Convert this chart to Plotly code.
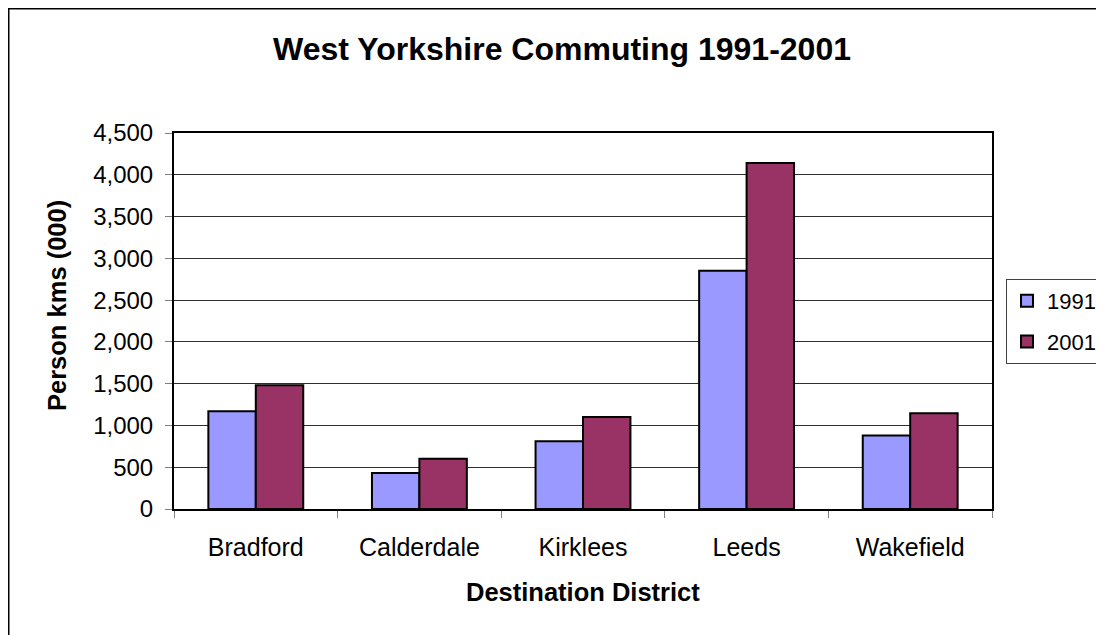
import plotly.graph_objects as go

districts = ["Bradford", "Calderdale", "Kirklees", "Leeds", "Wakefield"]
values_1991 = [1170, 430, 810, 2850, 880]
values_2001 = [1480, 600, 1100, 4140, 1145]
y_ticks = [0, 500, 1000, 1500, 2000, 2500, 3000, 3500, 4000, 4500]

FONT = "Liberation Sans, Arial, sans-serif"

# page is drawn with an 8px body margin; figure coordinates are offset-corrected
OFF = 8
W, H = 1104, 635
L, R, T, B = 174 - OFF, 992 - OFF, 133 - OFF, 509 - OFF
pw, ph = R - L, B - T

fig = go.Figure()
fig.add_trace(go.Bar(x=districts, y=values_1991, name="1991", legendgroup="a",
                     marker=dict(color="#9999FF", line=dict(color="black", width=2))))
fig.add_trace(go.Bar(x=districts, y=values_2001, name="2001", legendgroup="b",
                     marker=dict(color="#993366", line=dict(color="black", width=2))))

fig.update_layout(
    width=W, height=H,
    margin=dict(l=L, r=W - R, t=T, b=H - B, pad=0, autoexpand=False),
    paper_bgcolor="white", plot_bgcolor="white",
    bargap=0.42, bargroupgap=0,
    font=dict(family=FONT, color="black", size=20),
    title=dict(text="<b>West Yorkshire Commuting 1991-2001</b>",
               x=(562 - OFF) / W, xanchor="center", y=1 - (49 - OFF) / H, yanchor="middle",
               font=dict(family=FONT, size=32, color="black")),
    legend=dict(x=(1006 - OFF - L) / pw, xanchor="left", y=(B - (279 - OFF)) / ph, yanchor="top",
                bordercolor="#404040", borderwidth=1, bgcolor="white",
                font=dict(family=FONT, size=22, color="black"),
                itemwidth=30, tracegroupgap=9),
    showlegend=True,
)

fig.update_xaxes(
    showline=True, linecolor="black", linewidth=2, mirror=True,
    ticks="outside", tickson="boundaries", ticklen=7, tickcolor="#808080", tickwidth=1,
    tickfont=dict(family=FONT, size=25, color="black"),
    ticklabelstandoff=15,
    showgrid=False,
)
fig.update_yaxes(
    range=[0, 4500], tickvals=y_ticks, tickformat=",d",
    showline=True, linecolor="black", linewidth=2, mirror=True,
    ticks="outside", ticklen=7, tickcolor="#808080", tickwidth=1,
    tickfont=dict(family=FONT, size=24, color="black"),
    ticklabelstandoff=7,
    showgrid=True, gridcolor="#303030", gridwidth=1,
    zeroline=False,
)

# axis titles
fig.add_annotation(text="<b>Destination District</b>", xref="paper", yref="paper",
                   x=(583 - OFF - L) / pw, y=(B - (592 - OFF)) / ph, xanchor="center", yanchor="middle",
                   showarrow=False, font=dict(family=FONT, size=25.5, color="black"))
fig.add_annotation(text="<b>Person kms (000)</b>", xref="paper", yref="paper",
                   x=(57 - OFF - L) / pw, y=(B - (306 - OFF)) / ph, xanchor="center", yanchor="middle",
                   textangle=-90, showarrow=False,
                   font=dict(family=FONT, size=25.5, color="black"))

# outer chart-area border (cut off at right and bottom in the reference)
fig.add_shape(type="rect", xref="paper", yref="paper",
              x0=(0.75 - L) / pw, x1=(W + 20 - L) / pw,
              y0=(B - (H + 20)) / ph, y1=(B - 0.75) / ph,
              line=dict(color="black", width=1.5), fillcolor="rgba(0,0,0,0)", layer="below")

fig.write_html("out.html")
